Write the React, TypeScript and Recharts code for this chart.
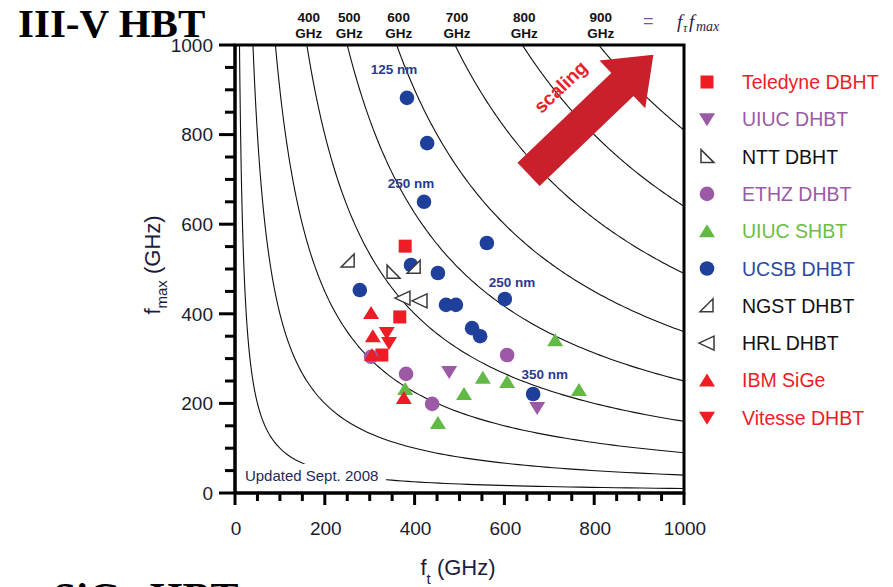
import React from "react";
import { ScatterChart, Scatter, XAxis, YAxis, ReferenceArea } from "recharts";

const FONT = "Arial, 'Liberation Sans', Helvetica, sans-serif";
const SERIF = "'Liberation Serif', 'Times New Roman', serif";

// measured devices (fT, fmax in GHz)
const teledyneDBHT = [
  { ft: 379, fmax: 551 },
  { ft: 367, fmax: 393 },
  { ft: 327, fmax: 308 },
];
const uiucDHBT = [
  { ft: 477, fmax: 270 },
  { ft: 673, fmax: 190 },
];
const nttDBHT = [{ ft: 352, fmax: 493 }];
const ethzDHBT = [
  { ft: 303, fmax: 304 },
  { ft: 381, fmax: 266 },
  { ft: 439, fmax: 199 },
  { ft: 606, fmax: 308 },
];
const uiucSHBT = [
  { ft: 379, fmax: 232 },
  { ft: 452, fmax: 156 },
  { ft: 510, fmax: 221 },
  { ft: 552, fmax: 257 },
  { ft: 606, fmax: 248 },
  { ft: 713, fmax: 341 },
  { ft: 766, fmax: 230 },
];
const ucsbDHBT = [
  { ft: 383, fmax: 882 },
  { ft: 428, fmax: 781 },
  { ft: 421, fmax: 650 },
  { ft: 561, fmax: 558 },
  { ft: 392, fmax: 509 },
  { ft: 452, fmax: 491 },
  { ft: 278, fmax: 453 },
  { ft: 470, fmax: 420 },
  { ft: 492, fmax: 420 },
  { ft: 528, fmax: 368 },
  { ft: 546, fmax: 350 },
  { ft: 601, fmax: 433 },
  { ft: 664, fmax: 221 },
];
const ngstDHBT = [
  { ft: 252, fmax: 518 },
  { ft: 399, fmax: 504 },
];
const hrlDHBT = [
  { ft: 374, fmax: 435 },
  { ft: 412, fmax: 429 },
];
const ibmSiGe = [
  { ft: 303, fmax: 402 },
  { ft: 307, fmax: 350 },
  { ft: 305, fmax: 308 },
  { ft: 376, fmax: 212 },
];
const vitesseDHBT = [
  { ft: 338, fmax: 357 },
  { ft: 343, fmax: 335 },
];

// sqrt(fT * fmax) contour levels, GHz
const curveLevels = [100, 200, 300, 400, 500, 600, 700, 800, 900];
const labeledLevels = [400, 500, 600, 700, 800, 900];

const nodeLabels = [
  { ft: 354, fmax: 947, text: "125 nm" },
  { ft: 392, fmax: 692, text: "250 nm" },
  { ft: 617, fmax: 471, text: "250 nm" },
  { ft: 690, fmax: 266, text: "350 nm" },
];
const updatedNote = [{ ft: 22, fmax: 27, text: "Updated Sept. 2008" }];
const scalingArrow = [{ ft: 792, fmax: 844 }];

const xTicks = [0, 50, 100, 150, 200, 250, 300, 350, 400, 450, 500, 550, 600, 650, 700, 750, 800, 850, 900, 950, 1000];
const yTicks = xTicks;

const RED = "#ee1c25";
const PURPLE = "#9b59a6";
const GREEN = "#62b946";
const BLUE = "#1f409a";
const OPEN = "#3a3a3a";

const SERIES = [
  { name: "Teledyne DBHT", data: teledyneDBHT, kind: "square", color: RED, text: RED },
  { name: "UIUC DHBT", data: uiucDHBT, kind: "triDown", color: PURPLE, text: PURPLE },
  { name: "NTT DBHT", data: nttDBHT, kind: "rtBL", color: OPEN, text: "#111" },
  { name: "ETHZ DHBT", data: ethzDHBT, kind: "circle", color: PURPLE, text: PURPLE },
  { name: "UIUC SHBT", data: uiucSHBT, kind: "triUp", color: GREEN, text: "#6cbd45" },
  { name: "UCSB DHBT", data: ucsbDHBT, kind: "circle", color: BLUE, text: "#2b4aa0" },
  { name: "NGST DHBT", data: ngstDHBT, kind: "rtBR", color: OPEN, text: "#111" },
  { name: "HRL DHBT", data: hrlDHBT, kind: "triLeft", color: OPEN, text: "#111" },
  { name: "IBM SiGe", data: ibmSiGe, kind: "triUp", color: RED, text: RED },
  { name: "Vitesse DHBT", data: vitesseDHBT, kind: "triDown", color: RED, text: RED },
];

function isoCurve(level: number) {
  const n = 140;
  const tMax = Math.log(1000 / level);
  const pts = [];
  for (let i = 0; i <= n; i++) {
    const t = -tMax + (2 * tMax * i) / n;
    pts.push({ ft: level * Math.exp(t), fmax: level * Math.exp(-t) });
  }
  return pts;
}

function Marker({ kind, cx, cy, color }: any) {
  switch (kind) {
    case "square":
      return <rect x={cx - 6.5} y={cy - 6.5} width={13} height={13} fill={color} />;
    case "circle":
      return <circle cx={cx} cy={cy} r={7.3} fill={color} />;
    case "triUp":
      return <polygon points={`${cx},${cy - 7} ${cx + 8},${cy + 6} ${cx - 8},${cy + 6}`} fill={color} />;
    case "triDown":
      return <polygon points={`${cx - 8},${cy - 6} ${cx + 8},${cy - 6} ${cx},${cy + 7}`} fill={color} />;
    case "triLeft":
      return (
        <polygon
          points={`${cx - 8},${cy} ${cx + 7},${cy - 7} ${cx + 7},${cy + 7}`}
          fill="#fff"
          stroke={color}
          strokeWidth={1.5}
        />
      );
    case "rtBL":
      return (
        <polygon
          points={`${cx - 6},${cy - 7} ${cx - 6},${cy + 6} ${cx + 7},${cy + 6}`}
          fill="#fff"
          stroke={color}
          strokeWidth={1.5}
        />
      );
    case "rtBR":
      return (
        <polygon
          points={`${cx + 6},${cy - 7} ${cx + 6},${cy + 6} ${cx - 7},${cy + 6}`}
          fill="#fff"
          stroke={color}
          strokeWidth={1.5}
        />
      );
    default:
      return <g />;
  }
}

// tickSize/tickMargin are 0, so (x, y) sits on the axis line
const XTick = ({ x, y, payload }: any) => {
  const major = payload.value % 200 === 0;
  return (
    <g>
      <line x1={x} x2={x} y1={y} y2={y + (major ? 12 : 8)} stroke="#000" strokeWidth={3} />
      {major && (
        <text x={x + 1} y={y + 42} textAnchor="middle" fontSize={19} fontFamily={FONT} fill="#1b1b2f">
          {payload.value}
        </text>
      )}
    </g>
  );
};

const YTick = ({ x, y, payload }: any) => {
  const major = payload.value % 200 === 0;
  return (
    <g>
      <line x1={x} x2={x - (major ? 16 : 10)} y1={y} y2={y} stroke="#000" strokeWidth={3} />
      {major && (
        <text x={x - 22} y={y} dy="0.36em" textAnchor="end" fontSize={19} fontFamily={FONT} fill="#1b1b2f">
          {payload.value}
        </text>
      )}
    </g>
  );
};

const LevelLabel = ({ cx, cy, payload }: any) => (
  <g fontFamily={FONT} fontWeight="bold" fontSize={13.5} fill="#111" textAnchor="middle">
    <text x={cx + 2} y={cy - 23}>{payload.level}</text>
    <text x={cx + 2} y={cy - 7}>GHz</text>
  </g>
);

const NodeLabel = ({ cx, cy, payload }: any) => (
  <text
    x={cx}
    y={cy}
    dy="0.36em"
    textAnchor="middle"
    fontFamily={FONT}
    fontWeight="bold"
    fontSize={13.5}
    fill="#2b3990"
  >
    {payload.text}
  </text>
);

const NoteLabel = ({ cx, cy, payload }: any) => (
  <g>
    <rect x={cx - 2} y={cy - 17} width={143} height={22} fill="#fff" />
    <text x={cx} y={cy} fontFamily={FONT} fontSize={15} fill="#1c2a5c">
      {payload.text}
    </text>
  </g>
);

const ArrowShape = ({ cx, cy }: any) => (
  <g>
    <polygon
      transform={`translate(${cx},${cy}) rotate(-43.8)`}
      points="-86,-16 44,-16 44,-33 87,0 44,33 44,16 -86,16"
      fill="#c9202c"
    />
    <text
      transform={`translate(${cx - 30},${cy - 28}) rotate(-43.8)`}
      textAnchor="middle"
      dominantBaseline="central"
      fill="#e8212b"
      fontWeight="bold"
      fontSize={19}
      fontFamily={FONT}
    >
      scaling
    </text>
  </g>
);

const noShape = () => <g />;

export default function App() {
  const legendTop = 82;
  const legendStep = 37.3;
  return (
    <div style={{ position: "relative", width: 893, height: 587, overflow: "hidden", background: "#fff" }}>
      <style>{"body{margin:0}"}</style>
      <ScatterChart width={893} height={587} margin={{ top: 45, right: 209, bottom: 54, left: 175 }}>
        <XAxis
          type="number"
          dataKey="ft"
          domain={[0, 1000]}
          ticks={xTicks}
          interval={0}
          height={40}
          tickSize={0}
          tickMargin={0}
          tick={XTick}
          tickLine={false}
          axisLine={{ stroke: "#000", strokeWidth: 3 }}
        />
        <YAxis
          type="number"
          dataKey="fmax"
          domain={[0, 1000]}
          ticks={yTicks}
          interval={0}
          width={60}
          tickSize={0}
          tickMargin={0}
          tick={YTick}
          tickLine={false}
          axisLine={{ stroke: "#000", strokeWidth: 3 }}
        />
        <ReferenceArea x1={0} x2={1000} y1={0} y2={1000} fill="none" stroke="#000" strokeWidth={3} />
        {curveLevels.map((lv) => (
          <Scatter
            key={`c${lv}`}
            data={isoCurve(lv)}
            line={{ stroke: "#111", strokeWidth: 1.1 }}
            shape={noShape}
            isAnimationActive={false}
          />
        ))}
        <Scatter data={updatedNote} shape={<NoteLabel />} isAnimationActive={false} />
        <Scatter
          data={labeledLevels.map((lv) => ({ ft: (lv * lv) / 1000, fmax: 1000, level: lv }))}
          shape={<LevelLabel />}
          isAnimationActive={false}
        />
        <Scatter data={scalingArrow} shape={<ArrowShape />} isAnimationActive={false} />
        {SERIES.map((s) => (
          <Scatter
            key={s.name}
            name={s.name}
            data={s.data}
            shape={(p: any) => <Marker kind={s.kind} cx={p.cx} cy={p.cy} color={s.color} />}
            isAnimationActive={false}
          />
        ))}
        <Scatter data={nodeLabels} shape={<NodeLabel />} isAnimationActive={false} />
      </ScatterChart>
      <svg
        width={893}
        height={587}
        style={{ position: "absolute", left: 0, top: 0, pointerEvents: "none" }}
      >
        <text x={18} y={37} fontFamily={SERIF} fontWeight="bold" fontSize={41} fill="#000">
          III-V HBT
        </text>
        <text x={53} y={612} fontFamily={SERIF} fontWeight="bold" fontSize={42} fill="#000">
          SiGe HBT
        </text>
        <text x={643} y={27} fontFamily={FONT} fontSize={18} fill="#7b4f9d">
          =
        </text>
        <g fontFamily={SERIF} fontStyle="italic" fill="#262650">
          <text x={677} y={28} fontSize={19}>f</text>
          <text x={683} y={32} fontSize={12}>τ</text>
          <text x={689} y={28} fontSize={19}>f</text>
          <text x={696} y={31} fontSize={14}>max</text>
        </g>
        <text
          transform="translate(160,265) rotate(-90)"
          textAnchor="middle"
          fontFamily={FONT}
          fontSize={22}
          fill="#1c1c3c"
        >
          f
          <tspan fontSize={15} dy={7}>max</tspan>
          <tspan dy={-7}> (GHz)</tspan>
        </text>
        <text x={458} y={575} textAnchor="middle" fontFamily={FONT} fontSize={22} fill="#1c1c3c">
          f
          <tspan fontSize={15} dy={9}>t</tspan>
          <tspan dy={-9}> (GHz)</tspan>
        </text>
        {SERIES.map((s, i) => {
          const yc = legendTop + i * legendStep;
          return (
            <g key={s.name}>
              <Marker kind={s.kind} cx={707} cy={yc} color={s.color} />
              <text x={742} y={yc + 7} fontFamily={FONT} fontSize={19.5} fill={s.text}>
                {s.name}
              </text>
            </g>
          );
        })}
      </svg>
    </div>
  );
}
